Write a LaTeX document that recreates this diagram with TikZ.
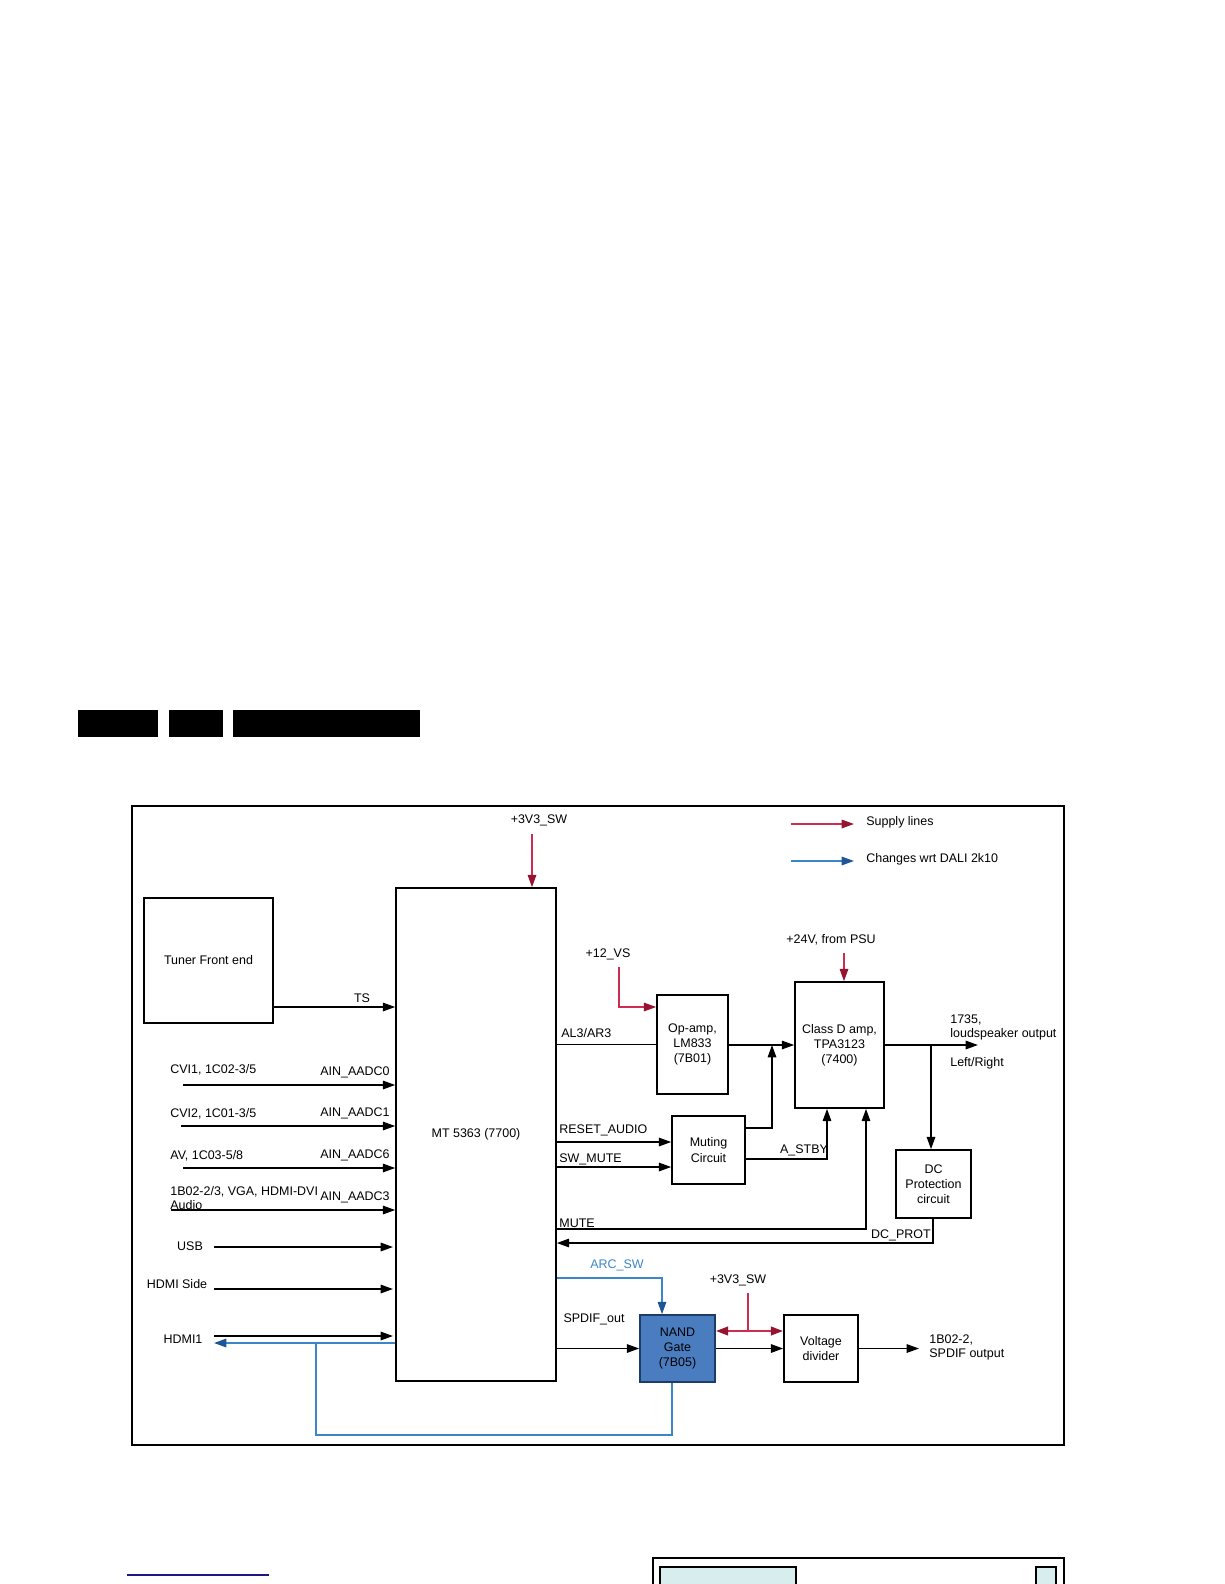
\documentclass[tikz,border=0pt]{standalone}
\usepackage{fontspec}
\setmainfont{Liberation Sans}
\usepackage{tikz}
\usetikzlibrary{arrows.meta, calc, positioning}
\definecolor{supplyred}{RGB}{208,44,82}
\definecolor{supplytip}{RGB}{150,20,50}
\definecolor{changeblue}{RGB}{58,134,200}
\definecolor{changetip}{RGB}{30,85,150}
\definecolor{nandfill}{RGB}{74,124,192}
\definecolor{nandline}{RGB}{30,60,105}
\definecolor{navy}{RGB}{25,25,130}
\definecolor{paleteal}{RGB}{216,238,238}
\begin{document}
\begin{tikzpicture}[x=0.02cm, y=-0.02cm,
  font=\fontsize{7.1}{8.6}\selectfont,
  blk/.style={draw, line width=0.9pt, align=center, inner sep=1pt},
  sig/.style={line width=0.9pt, -{Triangle[length=7pt,width=4.8pt]}},
  supply/.style={supplyred, line width=0.9pt, -{Triangle[length=7pt,width=4.8pt,color=supplytip]}},
  change/.style={changeblue, line width=0.9pt, -{Triangle[length=7pt,width=4.8pt,color=changetip]}},
  lbl/.style={inner sep=0pt, anchor=west}]
\useasboundingbox (0,0) rectangle (1224,1584);
\clip (0,0) rectangle (1224,1584);

% header bars
\fill (78,710) rectangle (158,737);
\fill (169,710) rectangle (223,737);
\fill (233,710) rectangle (420,737);

% frame
\draw[line width=1.5pt] (132,806) rectangle (1064,1445);

% blocks
\node[blk, minimum width=2.58cm, minimum height=2.5cm] (tuner) at (208.5,960.5) {Tuner Front end};
\node[blk, minimum width=3.2cm, minimum height=9.86cm] (mt) at (476,1134.5) {MT 5363 (7700)};
\node[blk, minimum width=1.42cm, minimum height=1.98cm] (opamp) at (692.5,1044.5) {Op-amp,\\LM833\\(7B01)};
\node[blk, minimum width=1.78cm, minimum height=2.52cm] (classd) at (839.5,1045) {Class D amp,\\TPA3123\\(7400)};
\node[blk, minimum width=1.5cm, minimum height=1.36cm] (dcprot) at (933.5,1184) {DC\\Protection\\circuit};
\node[blk, minimum width=1.46cm, minimum height=1.36cm] (muting) at (708.5,1150) {Muting\\Circuit};
\node[blk, draw=nandline, fill=nandfill, minimum width=1.5cm, minimum height=1.34cm] (nand) at (677.5,1348.5) {NAND\\Gate\\(7B05)};
\node[blk, minimum width=1.48cm, minimum height=1.34cm] (vdiv) at (821,1348.5) {Voltage\\divider};

% legend
\coordinate (legr) at (791,824);
\coordinate (legb) at (791,861);
\draw[supply] (legr) -- ++(63,0);
\draw[change] (legb) -- ++(63,0);
\node[lbl] (legrtxt) at (866,822) {Supply lines};
\node[lbl] (legbtxt) at (866,859) {Changes wrt DALI 2k10};

% supplies
\node (vsw) at (539,820) {+3V3\_SW};
\coordinate (vswend) at (532,834);
\draw[supply] (vswend) -- (vswend |- mt.north);
\node (vs12) at (608,954) {+12\_VS};
\coordinate (vs12end) at (619,967);
\draw[supply] (vs12end) |- (opamp.west |- 0,1007);
\node (v24) at (831,940) {+24V, from PSU};
\coordinate (v24end) at (844,953);
\draw[supply] (v24end) -- (v24end |- classd.north);
\node (vsw2) at (738,1280) {+3V3\_SW};
\coordinate (vsw2end) at (748,1293);
\coordinate (vsw2tee) at (748,1331);
\draw[supplyred, line width=0.9pt] (vsw2end) -- (vsw2tee);
\draw[supply, line width=1.4pt] (vsw2tee) -- (nand.east |- vsw2tee);
\draw[supply, line width=1.4pt] (vsw2tee) -- (vdiv.west |- vsw2tee);

% tuner
\draw[sig] (tuner.east |- 0,1007) -- (mt.west |- 0,1007);
\node (ts) at (362,998) {TS};

% audio inputs
\foreach \nm/\yy/\xs/\ain in {cvi1/1085/183/AIN\_AADC0, cvi2/1126/181/AIN\_AADC1, av/1168/183/AIN\_AADC6, vga/1210/171/AIN\_AADC3} {
  \coordinate (\nm) at (\xs,\yy);
  \draw[sig] (\nm) -- (\nm -| mt.west);
  \node[lbl] at (320,\yy-13) {\ain};
}
\node[lbl] (cvi1txt) at (170,1070) {CVI1, 1C02-3/5};
\node[lbl] (cvi2txt) at (170,1114) {CVI2, 1C01-3/5};
\node[lbl] (avtxt) at (170,1156) {AV, 1C03-5/8};
\node[lbl] (vgatxt) at (170,1192) {1B02-2/3, VGA, HDMI-DVI};
\node[lbl] (audtxt) at (170,1205) {Audio};

% digital inputs
\foreach \nm/\yy in {usb/1247, hdmis/1289, hdmi1/1336} {
  \coordinate (\nm) at (214,\yy);
  \draw[sig] (\nm) -- (393,\yy);
}
\node (usbtxt) at (190,1246) {USB};
\node (hdmistxt) at (177,1284) {HDMI Side};
\node (hdmi1txt) at (183,1339) {HDMI1};

% arc return path
\coordinate (arcret) at (214,1343);
\coordinate (arcbr) at (316,1343);
\draw[change] (mt.west |- arcret) -- (arcret);
\draw[changeblue, line width=0.9pt] (arcbr) |- (672,1435) -- (672,1435 |- nand.south);

% audio path
\draw[line width=0.9pt] (mt.east |- opamp.west) -- (opamp.west);
\node[lbl] (al3) at (561,1033) {AL3/AR3};
\draw[sig] (opamp.east |- 0,1045) -- (classd.west |- 0,1045);
\draw[sig] (muting.east |- 0,1128) -| (772,1045);
\coordinate (spkout) at (978,1045);
\draw[sig] (classd.east |- spkout) -- (spkout);
\node[lbl] (spk1) at (950,1020) {1735,};
\node[lbl] (spk2) at (950,1034) {loudspeaker output};
\node[lbl] (spk3) at (950,1063) {Left/Right};
\draw[sig] (931,1045) -- (931,1045 |- dcprot.north);

% muting and control
\draw[sig] (mt.east |- 0,1142) -- (muting.west |- 0,1142);
\node[lbl] (rst) at (559,1130) {RESET\_AUDIO};
\draw[sig] (mt.east |- 0,1167) -- (muting.west |- 0,1167);
\node[lbl] (swm) at (559,1159) {SW\_MUTE};
\draw[sig] (muting.east |- 0,1159) -| (827,1159 |- classd.south);
\node (astby) at (804,1150) {A\_STBY};
\draw[sig] (mt.east |- 0,1229) -| (866,1229 |- classd.south);
\node[lbl] (mute) at (559,1223) {MUTE};
\draw[sig] (933,1218) |- (mt.east |- 0,1243);
\node (dcp) at (901,1235) {DC\_PROT};

% spdif
\draw[change] (mt.east |- 0,1278) -| (662,1278 |- nand.north);
\node[changeblue] (arcsw) at (617,1265) {ARC\_SW};
\draw[sig] (mt.east |- nand.west) -- (nand.west);
\node (spdif) at (594,1319) {SPDIF\_out};
\draw[sig] (nand.east) -- (vdiv.west);
\coordinate (spdout) at (919,1348.5);
\draw[sig] (vdiv.east) -- (spdout);
\node[lbl] (sp1) at (929,1340) {1B02-2,};
\node[lbl] (sp2) at (929,1354) {SPDIF output};

% page foot
\draw[navy, line width=0.9pt] (127,1575) -- (269,1575);
\draw[line width=1.2pt] (653,1600) |- (1064,1558) -- (1064,1600);
\draw[line width=1.2pt, fill=paleteal] (660,1600) |- (796,1567) -- (796,1600);
\draw[line width=1.2pt, fill=paleteal] (1036,1600) |- (1056,1567) -- (1056,1600);
\end{tikzpicture}
\end{document}
